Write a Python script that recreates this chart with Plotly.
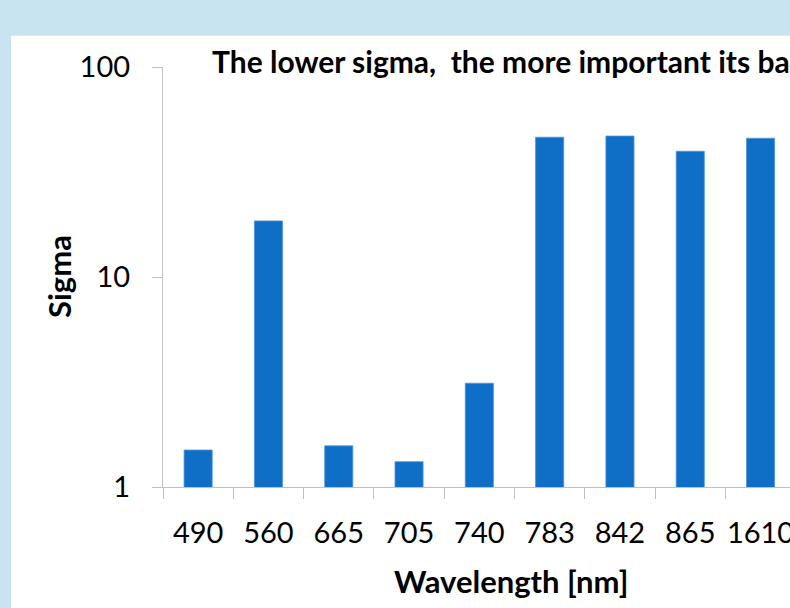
import plotly.graph_objects as go

# ---- data ----
wavelengths = ["490", "560", "665", "705", "740", "783", "842", "865", "1610"]
sigma = [1.50, 18.5, 1.57, 1.32, 3.12, 46.3, 46.9, 39.7, 45.8]
y_tick_vals = [1, 10, 100]
y_tick_text = ["1", "10", "100"]

# ---- geometry (pixels) ----
W, H = 790, 608
L, R, T, B = 163, 0, 67, 121
PW, PH = W - L - R, H - T - B
CAT_W = 70.3


def px_x(px):
    return (px - L) / PW


def px_y(py):
    return (H - B - py) / PH


FONT = "Lato"
BLUE = "#0f6fc6"
AXIS = "#bfbfbf"

fig = go.Figure()
fig.add_trace(go.Bar(
    x=wavelengths, y=sigma, width=0.4,
    marker=dict(color=BLUE, line=dict(color="#4f94dc", width=0.8)),
))

fig.update_layout(
    width=W, height=H,
    margin=dict(l=L, r=R, t=T, b=B, pad=0, autoexpand=False),
    paper_bgcolor="#c7e4f0",
    plot_bgcolor="rgba(0,0,0,0)",
    showlegend=False,
    font=dict(family=FONT, color="#000000"),
    bargap=0.6,
)

fig.update_xaxes(
    type="category",
    range=[-0.5, -0.5 + PW / CAT_W],
    automargin=False, tickangle=0,
    showline=True, linecolor=AXIS, linewidth=1.3,
    ticks="outside", tickson="boundaries", ticklen=11, tickcolor=AXIS, tickwidth=1.3,
    showgrid=False, zeroline=False,
    tickfont=dict(family=FONT, size=29, color="#000000"),
    ticklabelstandoff=20,
)
fig.update_yaxes(
    type="log", range=[0, 2],
    automargin=False,
    tickvals=y_tick_vals, ticktext=y_tick_text,
    showline=True, linecolor=AXIS, linewidth=1.3,
    ticks="outside", ticklen=10, tickcolor=AXIS, tickwidth=1.3,
    showgrid=False, zeroline=False,
    tickfont=dict(family=FONT, size=29, color="#000000"),
    ticklabelstandoff=16,
)

# white chart panel
fig.add_shape(type="rect", xref="paper", yref="paper",
              x0=px_x(11), x1=px_x(W + 20), y0=px_y(H + 20), y1=px_y(35.7),
              fillcolor="#ffffff", line=dict(width=0), layer="below")

# chart title (cut off by the right edge, as in the reference)
fig.add_annotation(xref="paper", yref="paper", x=px_x(210), y=px_y(61),
                   xanchor="left", yanchor="middle", showarrow=False,
                   text="<b>The lower sigma,&nbsp; the more important its band</b>",
                   font=dict(family=FONT, size=30, color="#000000"))
# axis titles
fig.add_annotation(xref="paper", yref="paper", x=px_x(511), y=px_y(581),
                   xanchor="center", yanchor="middle", showarrow=False,
                   text="<b>Wavelength [nm]</b>",
                   font=dict(family=FONT, size=31, color="#000000"))
fig.add_annotation(xref="paper", yref="paper", x=px_x(59), y=px_y(277),
                   xanchor="center", yanchor="middle", showarrow=False,
                   textangle=-90, text="<b>Sigma</b>",
                   font=dict(family=FONT, size=31, color="#000000"))

fig.write_html("out.html")
